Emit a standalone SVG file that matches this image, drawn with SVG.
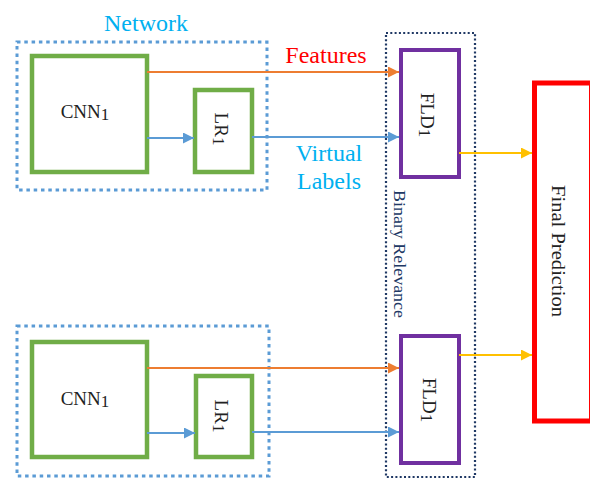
<svg xmlns="http://www.w3.org/2000/svg" width="590" height="479" viewBox="0 0 590 479">
<style>
.net{fill:none;stroke:#5B9BD5;stroke-width:3;stroke-dasharray:3.5 3.8;}
.br{fill:none;stroke:#1F3864;stroke-width:2.2;stroke-dasharray:2 2.3;}
.g{fill:#fff;stroke:#70AD47;stroke-width:4.5;}
.p{fill:#fff;stroke:#7030A0;stroke-width:4;}
.box{font-family:"Liberation Serif","Times New Roman",serif;font-size:19px;fill:#222;}
.lbl{font-family:"Liberation Serif","Times New Roman",serif;font-size:24px;}
.or{stroke:#ED7D31;stroke-width:2.2;fill:none;marker-end:url(#aO);}
.bl{stroke:#5B9BD5;stroke-width:2.2;fill:none;marker-end:url(#aB);}
.ye{stroke:#FFC000;stroke-width:2.2;fill:none;marker-end:url(#aY);}
</style>
<defs>
<marker id="aO" markerUnits="userSpaceOnUse" markerWidth="12" markerHeight="12" refX="11" refY="5.5" orient="auto"><path d="M0,0 L11,5.5 L0,11 z" fill="#ED7D31"/></marker>
<marker id="aB" markerUnits="userSpaceOnUse" markerWidth="12" markerHeight="12" refX="11" refY="5.5" orient="auto"><path d="M0,0 L11,5.5 L0,11 z" fill="#5B9BD5"/></marker>
<marker id="aY" markerUnits="userSpaceOnUse" markerWidth="12" markerHeight="12" refX="11" refY="5.5" orient="auto"><path d="M0,0 L11,5.5 L0,11 z" fill="#FFC000"/></marker>
</defs>
<rect width="590" height="479" fill="#fff"/>

<g id="network-top">
<rect class="net" x="17" y="42" width="250" height="148"/>
<text class="lbl" x="146" y="31" text-anchor="middle" fill="#00B0F0">Network</text>
</g>
<g id="network-bottom">
<rect class="net" x="17" y="326" width="252" height="150"/>
</g>
<g id="binary-relevance">
<rect class="br" x="386" y="33" width="89" height="444"/>
<text x="394" y="254" transform="rotate(90 394 254)" text-anchor="middle" font-family="Liberation Serif, serif" font-size="17" fill="#203864" textLength="128" lengthAdjust="spacingAndGlyphs">Binary Relevance</text>
</g>

<g id="cnn-top">
<rect class="g" x="32" y="56" width="115" height="116"/>
<text class="box" x="85" y="118" text-anchor="middle">CNN<tspan font-size="17" dy="2">1</tspan></text>
</g>
<g id="lr-top">
<rect class="g" x="195" y="90" width="57" height="82"/>
<text class="box" transform="translate(215,129) rotate(90)" text-anchor="middle">LR<tspan font-size="17" dy="2">1</tspan></text>
</g>
<g id="cnn-bottom">
<rect class="g" x="32" y="342" width="115" height="115"/>
<text class="box" x="85" y="405" text-anchor="middle">CNN<tspan font-size="17" dy="2">1</tspan></text>
</g>
<g id="lr-bottom">
<rect class="g" x="196" y="376" width="56" height="81"/>
<text class="box" transform="translate(215,416) rotate(90)" text-anchor="middle">LR<tspan font-size="17" dy="2">1</tspan></text>
</g>
<g id="fld-top">
<rect class="p" x="401" y="50" width="58" height="127"/>
<text class="box" transform="translate(421,115) rotate(90)" text-anchor="middle">FLD<tspan font-size="17" dy="2">1</tspan></text>
</g>
<g id="fld-bottom">
<rect class="p" x="401" y="336" width="58" height="127"/>
<text class="box" transform="translate(423,400) rotate(90)" text-anchor="middle">FLD<tspan font-size="17" dy="2">1</tspan></text>
</g>
<g id="final-prediction">
<rect x="534.5" y="83" width="57" height="338" fill="#fff" stroke="#FF0000" stroke-width="5"/>
<text x="552" y="251" transform="rotate(90 552 251)" text-anchor="middle" font-family="Liberation Serif, serif" font-size="18" fill="#222" textLength="132" lengthAdjust="spacingAndGlyphs">Final Prediction</text>
</g>

<g id="labels">
<text class="lbl" x="326" y="63" text-anchor="middle" fill="#FF0000">Features</text>
<text class="lbl" x="329" y="161" text-anchor="middle" fill="#00B0F0">Virtual</text>
<text class="lbl" x="329" y="189" text-anchor="middle" fill="#00B0F0">Labels</text>
</g>

<g id="connectors">
<path class="or" d="M147,72 H399"/>
<path class="bl" d="M147,138 H194"/>
<path class="bl" d="M252,137 H399"/>
<path class="ye" d="M459,153 H532"/>
<path class="or" d="M147,368 H399"/>
<path class="bl" d="M147,433 H195"/>
<path class="bl" d="M252,432 H399"/>
<path class="ye" d="M459,355 H532"/>
</g>
</svg>
